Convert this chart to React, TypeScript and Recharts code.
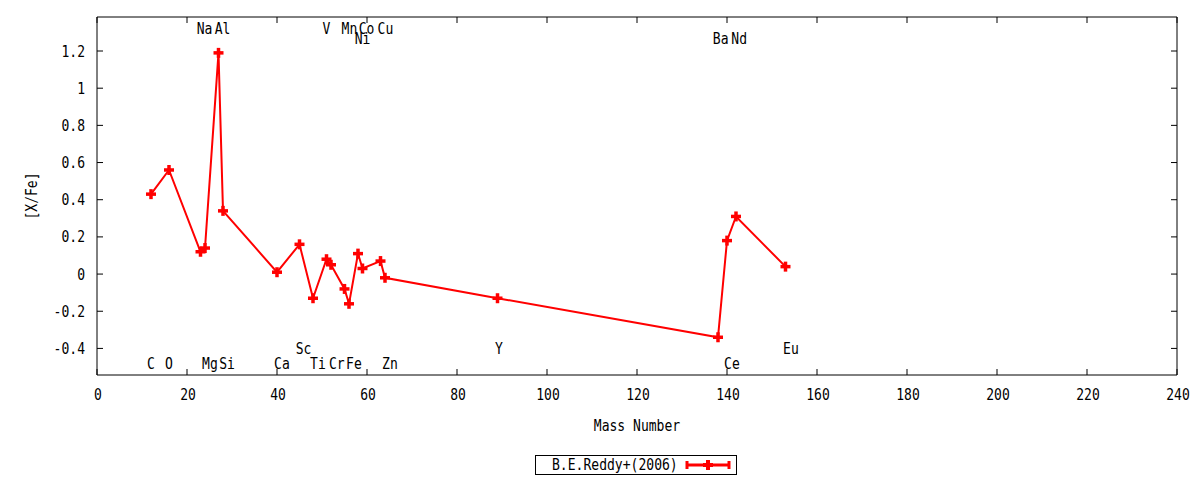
import React from 'react';
import { ComposedChart, Line, Scatter, XAxis, YAxis, ReferenceLine, Legend } from 'recharts';

// mass number of each measured element
const masses = [12, 16, 23, 24, 27, 28, 40, 45, 48, 51, 52, 55, 56, 58, 59, 63, 64, 89, 138, 140, 142, 153];
// [X/Fe]
const abundances = [0.43, 0.56, 0.12, 0.14, 1.19, 0.34, 0.01, 0.16, -0.13, 0.08, 0.05, -0.08, -0.16, 0.11, 0.03, 0.07, -0.02, -0.13, -0.34, 0.18, 0.31, 0.04];

// element name labels: text, x (mass), y ([X/Fe])
const labelNames = ['Na', 'Al', 'V', 'Mn', 'Co', 'Cu', 'Ni', 'Ba', 'Nd', 'C', 'O', 'Mg', 'Si', 'Ca', 'Sc', 'Ti', 'Cr', 'Fe', 'Zn', 'Y', 'Ce', 'Eu'];
const labelX = [23.9, 27.9, 51.0, 56.1, 59.9, 64.1, 59.0, 138.6, 142.7, 12.0, 16.0, 25.1, 28.9, 41.1, 45.9, 49.1, 53.3, 57.1, 65.1, 89.3, 141.1, 154.2];
const labelY = [1.32, 1.32, 1.32, 1.32, 1.32, 1.32, 1.27, 1.27, 1.27, -0.48, -0.48, -0.48, -0.48, -0.48, -0.4, -0.48, -0.48, -0.48, -0.48, -0.4, -0.48, -0.4];

const xTicks = [0, 20, 40, 60, 80, 100, 120, 140, 160, 180, 200, 220, 240];
const yTicks = [-0.4, -0.2, 0, 0.2, 0.4, 0.6, 0.8, 1, 1.2];
const yDomain = [-0.543, 1.383];
const seriesName = 'B.E.Reddy+(2006)';

const data = masses.map((m, i) => ({ mass: m, value: abundances[i] }));
const labels = labelNames.map((n, i) => ({ mass: labelX[i], value: labelY[i], name: n }));

const FONT = '"DejaVu Sans Mono", monospace';
const FS = 15;
const SQUEEZE = 0.87; // reference font is a narrow mono
const RED = '#ff0000';

const PLOT_LEFT = 97;
const PLOT_RIGHT = 1177;
const PLOT_TOP = 17;
const PLOT_BOTTOM = 375;

// narrow text, drawn at (x, y) baseline
const T = ({ x, y, anchor = 'middle', rotate = 0, children }: any) => (
  <text
    transform={`translate(${x} ${y}) rotate(${rotate}) scale(${SQUEEZE} 1)`}
    textAnchor={anchor}
    fontFamily={FONT}
    fontSize={FS}
    fill="#000"
  >
    {children}
  </text>
);

const Plus = (props: any) => {
  const { cx, cy } = props;
  if (cx == null || cy == null) return null;
  return (
    <g>
      <line x1={cx - 5} x2={cx + 5} y1={cy} y2={cy} stroke={RED} strokeWidth={3.5} />
      <line x1={cx} x2={cx} y1={cy - 5} y2={cy + 5} stroke={RED} strokeWidth={3.5} />
    </g>
  );
};

const XTick = (props: any) => {
  const { x, payload } = props;
  return (
    <g>
      <line x1={x} x2={x} y1={PLOT_BOTTOM} y2={PLOT_BOTTOM - 6} stroke="#000" />
      <line x1={x} x2={x} y1={PLOT_TOP} y2={PLOT_TOP + 6} stroke="#000" />
      <T x={x + 1} y={PLOT_BOTTOM + 25}>{payload.value}</T>
    </g>
  );
};

const YTick = (props: any) => {
  const { y, payload } = props;
  const v = Math.round(payload.value * 10) / 10;
  return (
    <g>
      <line x1={PLOT_LEFT} x2={PLOT_LEFT + 6} y1={y} y2={y} stroke="#000" />
      <line x1={PLOT_RIGHT} x2={PLOT_RIGHT - 6} y1={y} y2={y} stroke="#000" />
      <T x={PLOT_LEFT - 12} y={y + 5.5} anchor="end">{String(v)}</T>
    </g>
  );
};

const ElementLabel = (props: any) => {
  const { cx, cy, payload } = props;
  return <T x={cx} y={cy + 5.5}>{payload.name}</T>;
};

const LegendBox = () => (
  <div
    style={{
      position: 'relative',
      border: '1px solid #000',
      height: 20,
      width: 202,
      boxSizing: 'border-box',
      background: '#fff',
    }}
  >
    <span
      style={{
        position: 'absolute',
        left: 16,
        top: 0,
        fontFamily: FONT,
        fontSize: FS,
        lineHeight: '18px',
        color: '#000',
        whiteSpace: 'nowrap',
        transform: `scaleX(${SQUEEZE})`,
        transformOrigin: 'left center',
      }}
    >
      {seriesName}
    </span>
    <svg width={48} height={18} style={{ position: 'absolute', left: 148, top: 0 }}>
      <line x1={3} x2={45} y1={9} y2={9} stroke={RED} strokeWidth={3} />
      <line x1={3} x2={3} y1={5} y2={13} stroke={RED} strokeWidth={3} />
      <line x1={45} x2={45} y1={5} y2={13} stroke={RED} strokeWidth={3} />
      <line x1={19} x2={29} y1={9} y2={9} stroke={RED} strokeWidth={4} />
      <line x1={24} x2={24} y1={4} y2={14} stroke={RED} strokeWidth={4} />
    </svg>
  </div>
);

export default function App() {
  return (
    <div style={{ position: 'absolute', left: 0, top: 0, background: '#fff' }}>
      <ComposedChart
        width={1200}
        height={480}
        margin={{ top: PLOT_TOP, right: 1200 - PLOT_RIGHT, bottom: 0, left: 0 }}
      >
        <XAxis
          dataKey="mass"
          type="number"
          domain={[0, 240]}
          ticks={xTicks}
          interval={0}
          height={480 - PLOT_BOTTOM}
          tickLine={false}
          stroke="#000"
          tick={<XTick />}
          allowDataOverflow
          label={{
            content: (p: any) => (
              <T x={p.viewBox.x + p.viewBox.width / 2} y={PLOT_BOTTOM + 56}>Mass Number</T>
            ),
          }}
        />
        <YAxis
          dataKey="value"
          type="number"
          domain={yDomain}
          ticks={yTicks}
          interval={0}
          width={PLOT_LEFT}
          tickLine={false}
          stroke="#000"
          tick={<YTick />}
          allowDataOverflow
          label={{
            content: () => (
              <T x={37} y={(PLOT_TOP + PLOT_BOTTOM) / 2} rotate={-90}>[X/Fe]</T>
            ),
          }}
        />
        <ReferenceLine y={yDomain[1]} stroke="#000" ifOverflow="extendDomain" />
        <ReferenceLine x={240} stroke="#000" ifOverflow="extendDomain" />
        <Scatter data={labels} dataKey="value" shape={<ElementLabel />} isAnimationActive={false} legendType="none" />
        <Line
          data={data}
          dataKey="value"
          name={seriesName}
          stroke={RED}
          strokeWidth={2}
          dot={<Plus />}
          activeDot={false}
          isAnimationActive={false}
        />
        <Legend
          layout="horizontal"
          verticalAlign="middle"
          align="center"
          content={<LegendBox />}
          wrapperStyle={{ position: 'absolute', top: 455, left: 535, width: 202, height: 20 }}
        />
      </ComposedChart>
    </div>
  );
}
